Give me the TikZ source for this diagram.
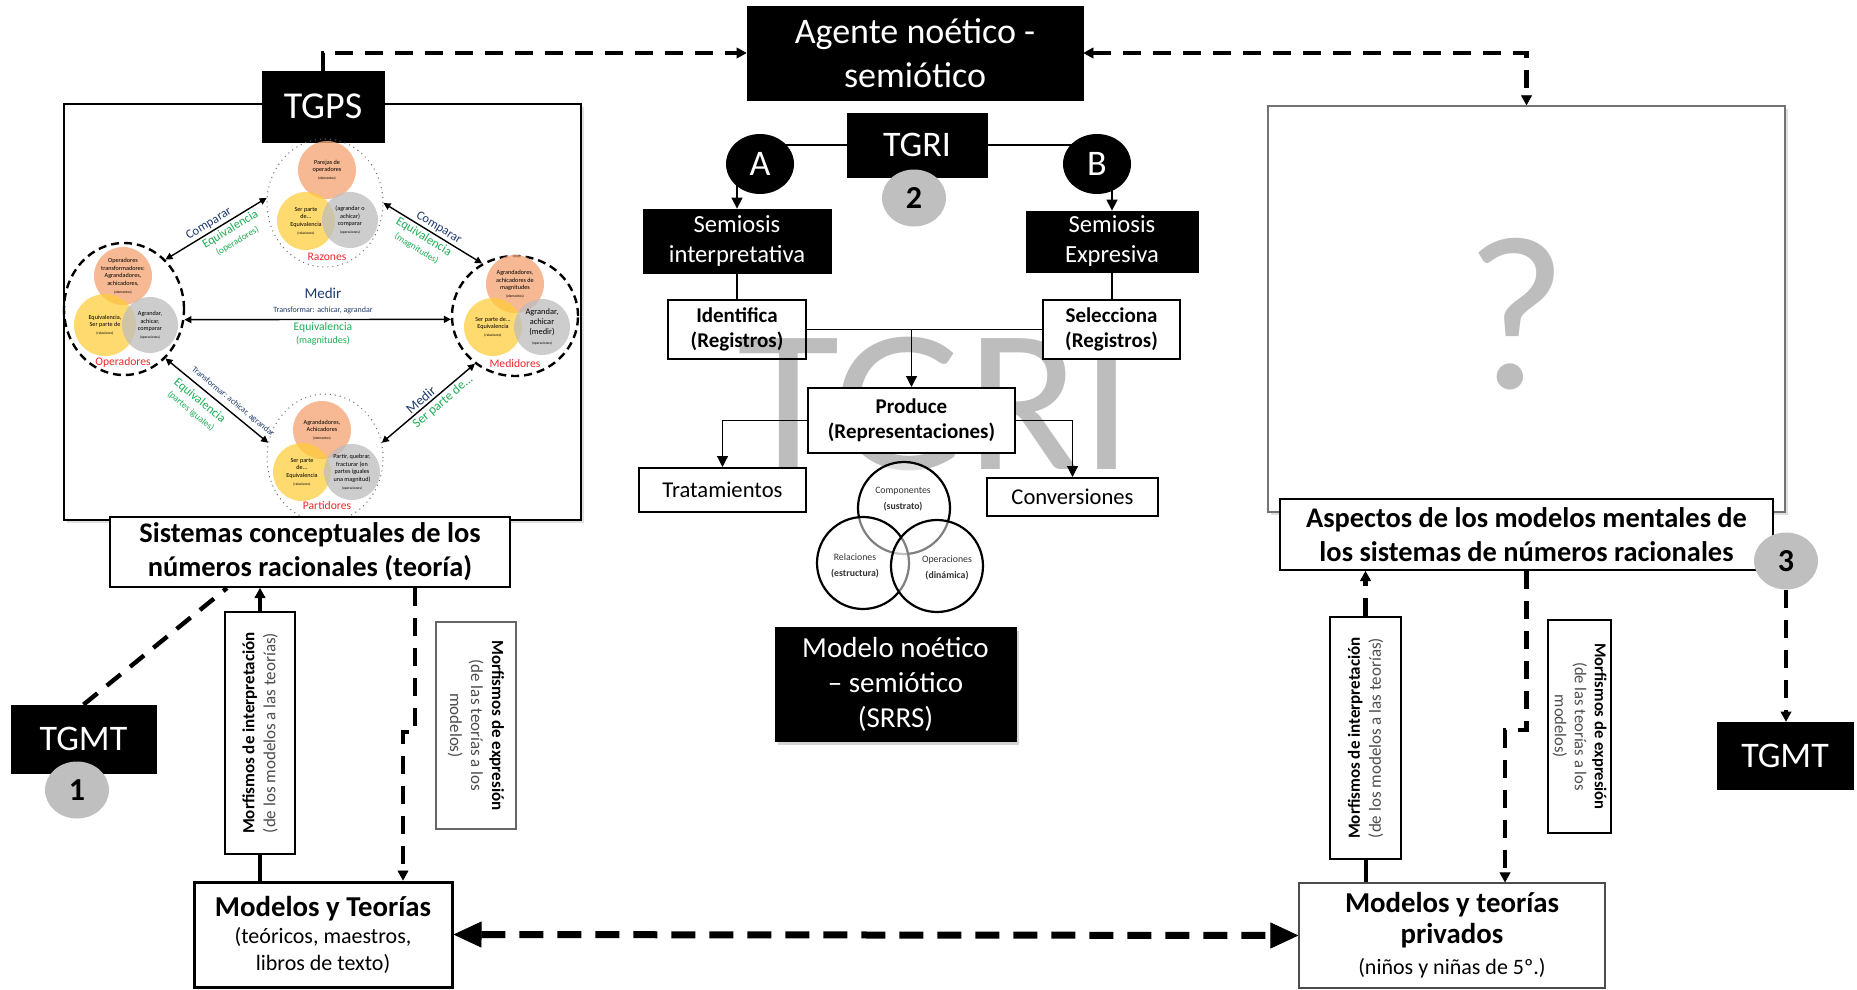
\documentclass[tikz,border=0pt]{standalone}
\usepackage{fontspec}
\setmainfont{Carlito}
\usetikzlibrary{positioning, arrows.meta, shapes.geometric, shadows}

\definecolor{orangeset}{HTML}{F4A878}
\definecolor{yellowset}{HTML}{FFCC33}
\definecolor{grayset}{HTML}{BDBDBD}
\definecolor{navylbl}{HTML}{1F3A6E}
\definecolor{greenlbl}{HTML}{1FAE55}
\definecolor{redlbl}{HTML}{F0282D}
\definecolor{badgegray}{HTML}{BFBFBF}
\definecolor{markgray}{HTML}{BDBDBD}

\newcommand{\fsz}[2]{\fontsize{#1}{#2}\selectfont}

\tikzstyle{BlackBox} = [fill=black, draw=black, text=white, align=center, inner sep=0pt]
\tikzstyle{StepBox} = [draw=black, line width=1pt, fill=white, align=center, inner sep=0pt]
\tikzstyle{ThinBox} = [draw=black!60, line width=0.6pt, fill=white, align=center, inner sep=0pt]
\tikzstyle{MorphBox} = [draw=black, line width=1pt, fill=white, align=center, inner sep=0pt, font=\fsz{8.5}{10.5}]
\tikzstyle{ABCircle} = [ellipse, fill=black, text=white, minimum width=34pt, minimum height=30pt, inner sep=0pt, font=\fsz{18}{20}]
\tikzstyle{NumBadge} = [ellipse, fill=badgegray, minimum width=32pt, minimum height=28.5pt, inner sep=0pt, font=\bfseries\fsz{16}{18}]
\tikzstyle{VennCircle} = [circle, draw=black, line width=1.1pt, fill=white, fill opacity=0.5, minimum size=46pt, inner sep=0pt]
\tikzstyle{VennText} = [align=center, inner sep=0pt, text=black!80, font=\fsz{4.9}{8}]
\tikzstyle{DottedRing} = [ellipse, draw=black!60, line width=0.5pt, dotted, inner sep=0pt]
\tikzstyle{DashedRing} = [ellipse, draw=black, line width=1.2pt, dash pattern=on 4pt off 2.5pt, inner sep=0pt]
\tikzstyle{OrangeSet} = [circle, fill=orangeset, fill opacity=0.8, text opacity=1, minimum size=29pt, inner sep=0pt, align=center, font=\fsz{3.1}{3.8}]
\tikzstyle{YellowSet} = [circle, fill=yellowset, fill opacity=0.7, text opacity=1, minimum size=29pt, inner sep=0pt, align=center, font=\fsz{3.1}{3.8}]
\tikzstyle{GraySet} = [circle, fill=grayset, fill opacity=0.75, text opacity=1, minimum size=28pt, inner sep=0pt, align=center, font=\fsz{3.1}{3.8}]
\tikzstyle{SetLabel} = [text=redlbl, inner sep=0pt, font=\fsz{5.8}{7}]
\tikzstyle{NavyLabel} = [text=navylbl, inner sep=1pt, align=center]
\tikzstyle{GreenLabel} = [text=greenlbl, inner sep=1pt, align=center]
\tikzstyle{PanelArrow} = [{Triangle[length=3.5pt,width=3.5pt]}-{Triangle[length=3.5pt,width=3.5pt]}, line width=0.7pt]
\tikzstyle{Link} = [line width=0.6pt]
\tikzstyle{Tip} = [-{Triangle[length=5.5pt,width=5.5pt]}]
\tikzstyle{DashLink} = [line width=2.2pt, dash pattern=on 9pt off 6pt]
\tikzstyle{DashTip} = [-{Triangle[length=5pt,width=5.5pt,line width=0.4pt]}]
\tikzstyle{DashTips} = [{Triangle[length=5pt,width=5.5pt,line width=0.4pt]}-{Triangle[length=5pt,width=5.5pt,line width=0.4pt]}]
\tikzstyle{SolidThick} = [line width=2pt]
\tikzstyle{BigLink} = [line width=3.5pt, dash pattern=on 12pt off 7pt, {Triangle[length=14pt,width=13pt,line width=0.4pt]}-{Triangle[length=14pt,width=13pt,line width=0.4pt]}]

\begin{document}
\begin{tikzpicture}[x=0.5pt, y=-0.5pt]
    \useasboundingbox (0,0) rectangle (1857,990);

    % gray mark behind the TGRI flow
    \node[text=markgray, font=\fsz{102}{102}, xscale=1.03, inner sep=0pt] (marca) at (935,404) {TGRI};

    % central column
    \node[BlackBox, minimum width=168pt, minimum height=47pt, font=\fsz{18}{22}] (agente) at (915,53) {Agente noético -\\semiótico};
    \node[BlackBox, minimum width=70pt, minimum height=32pt, font=\fsz{18}{20}] (tgri) at (917,145) {TGRI};
    \node[ABCircle] (circA) at (760,164) {A};
    \node[ABCircle] (circB) at (1097,164) {B};
    \node[NumBadge] (num2) at (914,198) {2};

    \node[BlackBox, minimum width=94pt, minimum height=32pt, font=\fsz{12.3}{15}] (semI) at (737,241) {Semiosis\\interpretativa};
    \node[BlackBox, minimum width=86pt, minimum height=30.5pt, font=\fsz{12.3}{15}] (semE) at (1112,241.5) {Semiosis\\Expresiva};
    \node[StepBox, fill=none, minimum width=69pt, minimum height=29.5pt, font=\bfseries\fsz{10.5}{12.5}] (ident) at (737,329.5) {Identifica\\(Registros)};
    \node[StepBox, minimum width=68.5pt, minimum height=29.5pt, font=\bfseries\fsz{10.5}{12.5}] (selec) at (1111.5,329.5) {Selecciona\\(Registros)};
    \node[StepBox, minimum width=103.5pt, minimum height=32.5pt, font=\bfseries\fsz{10.5}{12.5}] (produce) at (911.5,420.5) {Produce\\(Representaciones)};
    \node[StepBox, minimum width=83.5pt, minimum height=22pt, font=\fsz{11.3}{13}] (trat) at (722.5,490) {Tratamientos};
    \node[StepBox, minimum width=85.5pt, minimum height=19pt, font=\fsz{11.3}{13}] (conv) at (1072.5,497) {Conversiones};

    \node[VennCircle] (componentes) at (904,508) {};
    \node[VennCircle] (relaciones) at (863,563) {};
    \node[VennCircle] (operaciones) at (937,566) {};
    \node[VennText] (componentesT) at (903,499) {Componentes\\\textbf{(sustrato)}};
    \node[VennText] (relacionesT) at (855,566) {Relaciones\\\textbf{(estructura)}};
    \node[VennText] (operacionesT) at (947,568) {Operaciones\\\textbf{(dinámica)}};

    \node[BlackBox, minimum width=120.5pt, minimum height=57pt, font=\fsz{14.5}{17.5}, drop shadow={opacity=0.35, shadow xshift=1.5pt, shadow yshift=-2pt}] (modelo) at (895.5,684) {Modelo noético\\– semiótico\\(SRRS)};

    \draw[Link] (tgri.west) -- (tgri.west -| circA);
    \draw[Link] (tgri.east) -- (tgri.east -| circB);
    \draw[Link, Tip] (circA -| semI.north) -- (semI.north);
    \draw[Link, Tip] (circB -| semE.north) -- (semE.north);
    \draw[Link] (semI) -- (ident);
    \draw[Link] (semE.south) -- (semE.south |- selec.north);
    \draw[Link] (ident) -- (selec);
    \draw[Link, Tip] (produce.north |- ident) -- (produce.north);
    \draw[Link, Tip] (produce.west) -| (trat.north);
    \draw[Link, Tip] (produce.east) -| (conv.north);

    % left panel (TGPS)
    \node[draw=black, line width=1.2pt, fill=white, minimum width=258.5pt, minimum height=208pt, drop shadow={opacity=0.25, shadow xshift=1.5pt, shadow yshift=-1.5pt}] (panelL) at (322.5,312) {};
    \node[BlackBox, minimum width=61pt, minimum height=35.5pt, font=\fsz{19}{21}] (tgps) at (323,106.5) {TGPS};

    \node[DottedRing, minimum width=58pt, minimum height=64pt] (razones) at (325,203) {};
    \node[DashedRing, minimum width=60pt, minimum height=66pt] (operadores) at (124,309) {};
    \node[DashedRing, minimum width=63pt, minimum height=60pt] (medidores) at (515,316) {};
    \node[DottedRing, minimum width=58pt, minimum height=64pt] (partidores) at (325,458) {};

    \node[OrangeSet] (razonesE) at (327,170) {Parejas de\\operadores\\{\fsz{1.8}{2.4}(elementos)}};
    \node[YellowSet] (razonesR) at (306,221) {Ser parte\\de...\\Equivalencia\\{\fsz{1.8}{2.4}(relaciones)}};
    \node[GraySet] (razonesO) at (350,220) {(agrandar o\\achicar)\\comparar\\{\fsz{1.8}{2.4}(operaciones)}};
    \node[SetLabel] (razonesL) at (327,257) {Razones};

    \node[OrangeSet] (operadoresE) at (123,276) {Operadores\\transformadores:\\Agrandadores,\\achicadores,\\{\fsz{1.8}{2.4}(elementos)}};
    \node[YellowSet, minimum size=31pt] (operadoresR) at (105,325) {Equivalencia,\\Ser parte de\\{\fsz{1.8}{2.4}(relaciones)}};
    \node[GraySet] (operadoresO) at (150,325) {Agrandar,\\achicar,\\comparar\\{\fsz{1.8}{2.4}(operaciones)}};
    \node[SetLabel] (operadoresL) at (123,362) {Operadores};

    \node[OrangeSet] (medidoresE) at (515,284) {Agrandadores,\\achicadores de\\magnitudes\\{\fsz{1.8}{2.4}(elementos)}};
    \node[YellowSet] (medidoresR) at (493,327) {Ser parte de...\\Equivalencia\\{\fsz{1.8}{2.4}(relaciones)}};
    \node[GraySet, font=\fsz{4.2}{5}] (medidoresO) at (542,327) {Agrandar,\\achicar\\(medir)\\{\fsz{1.8}{2.4}(operaciones)}};
    \node[SetLabel] (medidoresL) at (515,364) {Medidores};

    \node[OrangeSet] (partidoresE) at (322,430) {Agrandadores,\\Achicadores\\{\fsz{1.8}{2.4}(elementos)}};
    \node[YellowSet] (partidoresR) at (302,472) {Ser parte\\de...\\Equivalencia\\{\fsz{1.8}{2.4}(relaciones)}};
    \node[GraySet] (partidoresO) at (352,472) {Partir, quebrar,\\fracturar (en\\partes iguales\\una magnitud)\\{\fsz{1.8}{2.4}(operaciones)}};
    \node[SetLabel] (partidoresL) at (327,506) {Partidores};

    \draw[PanelArrow] (operadores.50) -- node[pos=0.47, sloped, above, NavyLabel, font=\fsz{6.3}{7.5}] (compRO) {Comparar} node[pos=0.6, sloped, below, GreenLabel, font=\fsz{6.2}{6.5}] (equivRO) {Equivalencia\\{\fsz{4.6}{5.5}(operadores)}} (razones.175);
    \draw[PanelArrow] (razones.0) -- node[pos=0.52, sloped, above, NavyLabel, font=\fsz{6.3}{7.5}] (compRM) {Comparar} node[pos=0.45, sloped, below, GreenLabel, font=\fsz{6.2}{6.5}] (equivRM) {Equivalencia\\{\fsz{4.6}{5.5}(magnitudes)}} (medidores.122);
    \draw[PanelArrow] (operadores.-10) -- node[pos=0.52, above=1.5pt, NavyLabel, font=\fsz{6}{7}] (medirOM) {{\fsz{7.5}{8}Medir}\\{\fsz{4}{5}Transformar: achicar, agrandar}} node[pos=0.52, below, GreenLabel, font=\fsz{6}{6.8}] (equivOM) {{\fsz{5.8}{7}Equivalencia}\\{\fsz{5}{6}(magnitudes)}} (medidores.183);
    \draw[PanelArrow] (operadores.-50) -- node[pos=0.6, sloped, above=1.5pt, NavyLabel, font=\fsz{4.2}{5}] (transOP) {Transformar: achicar, agrandar} node[pos=0.4, sloped, below=1.5pt, GreenLabel, font=\fsz{6.2}{6.5}] (equivOP) {Equivalencia\\{\fsz{4.6}{5.5}(partes iguales)}} (partidores.165);
    \draw[PanelArrow] (partidores.15) -- node[pos=0.47, sloped, above, NavyLabel, font=\fsz{6.9}{8}] (medirPM) {Medir} node[pos=0.6, sloped, below, GreenLabel, font=\fsz{6.5}{7.5}] (partePM) {Ser parte de...} (medidores.230);

    % left lower part
    \node[StepBox, minimum width=200pt, minimum height=35pt, font=\bfseries\fsz{14.2}{17}] (sistemas) at (310,552) {Sistemas conceptuales de los\\números racionales (teoría)};
    \node[BlackBox, minimum width=72.5pt, minimum height=34pt, font=\fsz{18}{20}] (tgmtL) at (83.5,739) {TGMT};
    \node[NumBadge] (num1) at (77,790) {1};
    \node[MorphBox, rotate=90, minimum width=121pt, minimum height=35pt] (interpL) at (260,733) {\textbf{Morfismos de interpretación}\\\textcolor{black!70}{(de los modelos a las teorías)}};
    \node[ThinBox, rotate=-90, minimum width=103.5pt, minimum height=40pt, font=\fsz{8.5}{10.5}] (exprL) at (476,725.5) {\textbf{Morfismos de expresión}\\\textcolor{black!70}{(de las teorías a los}\\\textcolor{black!70}{modelos)}};
    \node[StepBox, line width=1.5pt, minimum width=129pt, minimum height=52.5pt, font=\fsz{11}{13.5}] (modelosT) at (323,934.5) {{\bfseries\fsz{14.4}{17}Modelos y Teorías}\\(teóricos, maestros,\\libros de texto)};
    \coordinate (bendL) at (403,732);

    \draw[DashLink] (tgmtL.north) -- ([xshift=59pt]sistemas.south west);
    \draw[DashLink, DashTip] (interpL.east) -- (interpL.east |- sistemas.south);
    \draw[SolidThick] (interpL.west) -- (interpL.west |- modelosT.north);
    \draw[DashLink, DashTip] ([xshift=52.5pt]sistemas.south) |- (bendL) -- (bendL |- modelosT.north);

    % right part
    \node[draw=black!55, line width=0.7pt, fill=white, minimum width=258.5pt, minimum height=203pt, drop shadow={opacity=0.25, shadow xshift=1.5pt, shadow yshift=-1.5pt}] (panelR) at (1526.5,309) {};
    \node[text=markgray, font=\fsz{110}{110}, inner sep=0pt] (pregunta) at (1516,314) {?};
    \node[StepBox, minimum width=246.5pt, minimum height=35.5pt, font=\bfseries\fsz{14.2}{17}] (aspectos) at (1526.5,534.5) {Aspectos de los modelos mentales de\\los sistemas de números racionales};
    \node[NumBadge] (num3) at (1786,561) {3};
    \node[BlackBox, minimum width=68pt, minimum height=33.5pt, font=\fsz{18}{20}] (tgmtR) at (1785,755.5) {TGMT};
    \node[MorphBox, rotate=90, minimum width=121pt, minimum height=35.5pt] (interpR) at (1365.5,738) {\textbf{Morfismos de interpretación}\\\textcolor{black!70}{(de los modelos a las teorías)}};
    \node[ThinBox, draw=black, line width=0.9pt, rotate=-90, minimum width=106.5pt, minimum height=31.5pt, font=\fsz{8.3}{10}] (exprR) at (1579.5,726.5) {\textbf{Morfismos de expresión}\\\textcolor{black!70}{(de las teorías a los}\\\textcolor{black!70}{modelos)}};
    \node[ThinBox, draw=black!70, minimum width=153pt, minimum height=52.5pt, font=\fsz{11}{15.5}] (privados) at (1452,935.5) {{\bfseries\fsz{14.4}{17}Modelos y teorías}\\{\bfseries\fsz{14.4}{17}privados}\\(niños y niñas de 5º.)};
    \coordinate (bendR) at (1505,730);

    \draw[DashLink, DashTip] (interpR.east) -- (interpR.east |- aspectos.south);
    \draw[SolidThick] (interpR.west) -- (interpR.west |- privados.north);
    \draw[DashLink, DashTip] (aspectos.south) |- (bendR) -- (bendR |- privados.north);
    \draw[DashLink, DashTip] (num3.south) -- (num3.south |- tgmtR.north);

    % links between the three parts
    \draw[DashLink, DashTip] (tgps.north) |- (agente.west);
    \draw[DashLink, DashTips] (agente.east) -| (panelR.north);
    \draw[BigLink] (modelosT.east) -- (privados.west);
\end{tikzpicture}
\end{document}
